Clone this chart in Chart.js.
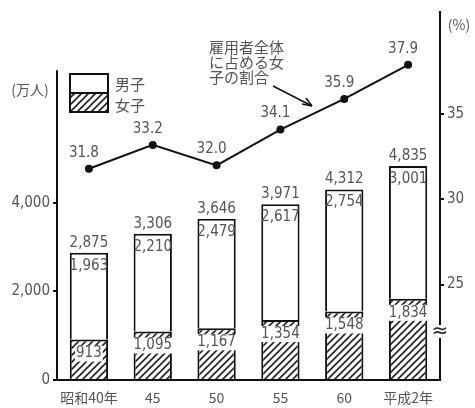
<!DOCTYPE html>
<html><head><meta charset="utf-8">
<script src="https://cdn.jsdelivr.net/npm/chart.js@4/dist/chart.umd.min.js"></script>
<style>html,body{margin:0;padding:0;background:#fff}#wrap{width:475px;height:408px}</style>
</head><body><div id="wrap"><canvas id="c" width="475" height="408"></canvas></div>
<script>
const categories = ["昭和40年","45","50","55","60","平成2年"];
const female = [913,1095,1167,1354,1548,1834];
const male = [1963,2210,2479,2617,2754,3001];
const totals = [2875,3306,3646,3971,4312,4835];
const femaleShare = [31.8,33.2,32.0,34.1,35.9,37.9];
const leftTicks = [0,2000,4000];
const rightTicks = [25,30,35];

const NUMFONT = '"Liberation Sans Narrow","DejaVu Sans Condensed",sans-serif';
const JPFONT = '"Noto Sans CJK JP",sans-serif';
const TXT = '#555';

function hatch(){
  const s=7, c=document.createElement('canvas'); c.width=s; c.height=s;
  const g=c.getContext('2d'); g.fillStyle='#fff'; g.fillRect(0,0,s,s);
  g.strokeStyle='#222'; g.lineWidth=1.6;
  g.beginPath(); g.moveTo(0,s); g.lineTo(s,0); g.moveTo(-1,1); g.lineTo(1,-1); g.moveTo(s-1,s+1); g.lineTo(s+1,s-1); g.stroke();
  return g.createPattern(c,'repeat');
}
const ctx0=document.getElementById('c').getContext('2d');
const pat=hatch();
const fmt=v=>v.toLocaleString('en-US');

const deco={
  id:'deco',
  afterDatasetsDraw(chart){
    const ctx=chart.ctx, x=chart.scales.x, y=chart.scales.y, y1=chart.scales.y1;
    ctx.save();
    // left axis line
    ctx.strokeStyle='#111'; ctx.lineWidth=2;
    ctx.beginPath(); ctx.moveTo(x.left, y.getPixelForValue(0)+1); ctx.lineTo(x.left, y.getPixelForValue(7000)); ctx.stroke();
    const fm=chart.getDatasetMeta(0), mm=chart.getDatasetMeta(1), lm=chart.getDatasetMeta(2);
    ctx.font='15px '+NUMFONT; ctx.textAlign='center'; ctx.textBaseline='middle';
    for(let i=0;i<categories.length;i++){
      const bx=fm.data[i].x;
      ctx.fillStyle=TXT;
      ctx.fillText(fmt(totals[i]), bx, mm.data[i].y-10);
      ctx.fillText(fmt(male[i]), bx, mm.data[i].y+13);
      const fy=fm.data[i].y+14, t=fmt(female[i]), w=ctx.measureText(t).width;
      ctx.fillStyle='#fff'; ctx.fillRect(bx-w/2-1, fy-8, w+2, 16);
      ctx.fillStyle=TXT; ctx.fillText(t, bx, fy);
      ctx.fillText(femaleShare[i].toFixed(1), lm.data[i].x-5, lm.data[i].y-16);
    }
    // axis break mark
    const by=332;
    ctx.fillStyle='#fff'; ctx.fillRect(y1.left-7, by-7, 14, 13);
    ctx.fillStyle='#222'; ctx.font='20px "DejaVu Sans",sans-serif'; ctx.fillText('≈', y1.left, by);
    // unit labels
    ctx.fillStyle=TXT; ctx.font='14px '+JPFONT;
    ctx.fillText('(万人)', 30, 90);
    ctx.fillText('(%)', 459, 25);
    // legend
    ctx.lineWidth=2; ctx.strokeStyle='#111';
    ctx.fillStyle='#fff'; ctx.fillRect(70,74,38,19); ctx.strokeRect(70,74,38,19);
    ctx.fillStyle=pat; ctx.fillRect(70,93,38,19); ctx.strokeRect(70,93,38,19);
    ctx.fillStyle=TXT; ctx.textAlign='left'; ctx.font='15px '+JPFONT;
    ctx.fillText('男子', 115, 84);
    ctx.fillText('女子', 115, 105);
    // annotation
    ctx.font='15px '+JPFONT;
    ctx.fillText('雇用者全体', 209, 47);
    ctx.fillText('に占める女', 209, 62);
    ctx.fillText('子の割合', 209, 77);
    ctx.strokeStyle='#111'; ctx.lineWidth=1.5;
    ctx.beginPath(); ctx.moveTo(273,86); ctx.lineTo(312,106); ctx.stroke();
    ctx.beginPath(); ctx.moveTo(312,106); ctx.lineTo(302,104); ctx.moveTo(312,106); ctx.lineTo(306,98); ctx.stroke();
    ctx.restore();
  }
};

new Chart(ctx0,{
  data:{labels:categories,datasets:[
    {type:'bar',label:'女子',data:female,yAxisID:'y',stack:'s',backgroundColor:pat,borderColor:'#111',
     borderWidth:{top:2,left:2,right:2,bottom:0},borderSkipped:false,barPercentage:0.6,categoryPercentage:1},
    {type:'bar',label:'男子',data:male,yAxisID:'y',stack:'s',backgroundColor:'#fff',borderColor:'#111',
     borderWidth:{top:2,left:2,right:2,bottom:0},borderSkipped:false,barPercentage:0.6,categoryPercentage:1},
    {type:'line',label:'雇用者全体に占める女子の割合',data:femaleShare,yAxisID:'y1',borderColor:'#111',borderWidth:2,
     pointRadius:3,pointBackgroundColor:'#111',pointBorderColor:'#111',tension:0}
  ]},
  options:{
    responsive:false,animation:false,
    layout:{padding:{top:10,left:0,right:0,bottom:0}},
    plugins:{legend:{display:false},tooltip:{enabled:false}},
    scales:{
      x:{stacked:true,grid:{display:false},border:{display:true,color:'#111',width:2},
         ticks:{color:TXT,font:{size:14,family:JPFONT},padding:1,maxRotation:0},
         afterFit:s=>{s.height=28;}},
      y:{stacked:true,position:'left',min:0,max:8315,
         afterBuildTicks:s=>{s.ticks=leftTicks.map(v=>({value:v}));},
         grid:{drawOnChartArea:false,drawTicks:true,tickLength:4,color:'#111',lineWidth:2},
         border:{display:false},
         ticks:{color:TXT,font:{size:15,family:NUMFONT},padding:3,callback:v=>fmt(v)},
         afterFit:s=>{s.width=57;}},
      y1:{position:'right',min:19.4,max:41.0,
         afterBuildTicks:s=>{s.ticks=rightTicks.map(v=>({value:v}));},
         grid:{drawOnChartArea:false,drawTicks:true,tickLength:4,color:'#111',lineWidth:2},
         border:{display:true,color:'#111',width:2},
         ticks:{color:TXT,font:{size:15,family:NUMFONT},padding:3},
         afterFit:s=>{s.width=35;}}
    }
  },
  plugins:[deco]
});
</script></body></html>
